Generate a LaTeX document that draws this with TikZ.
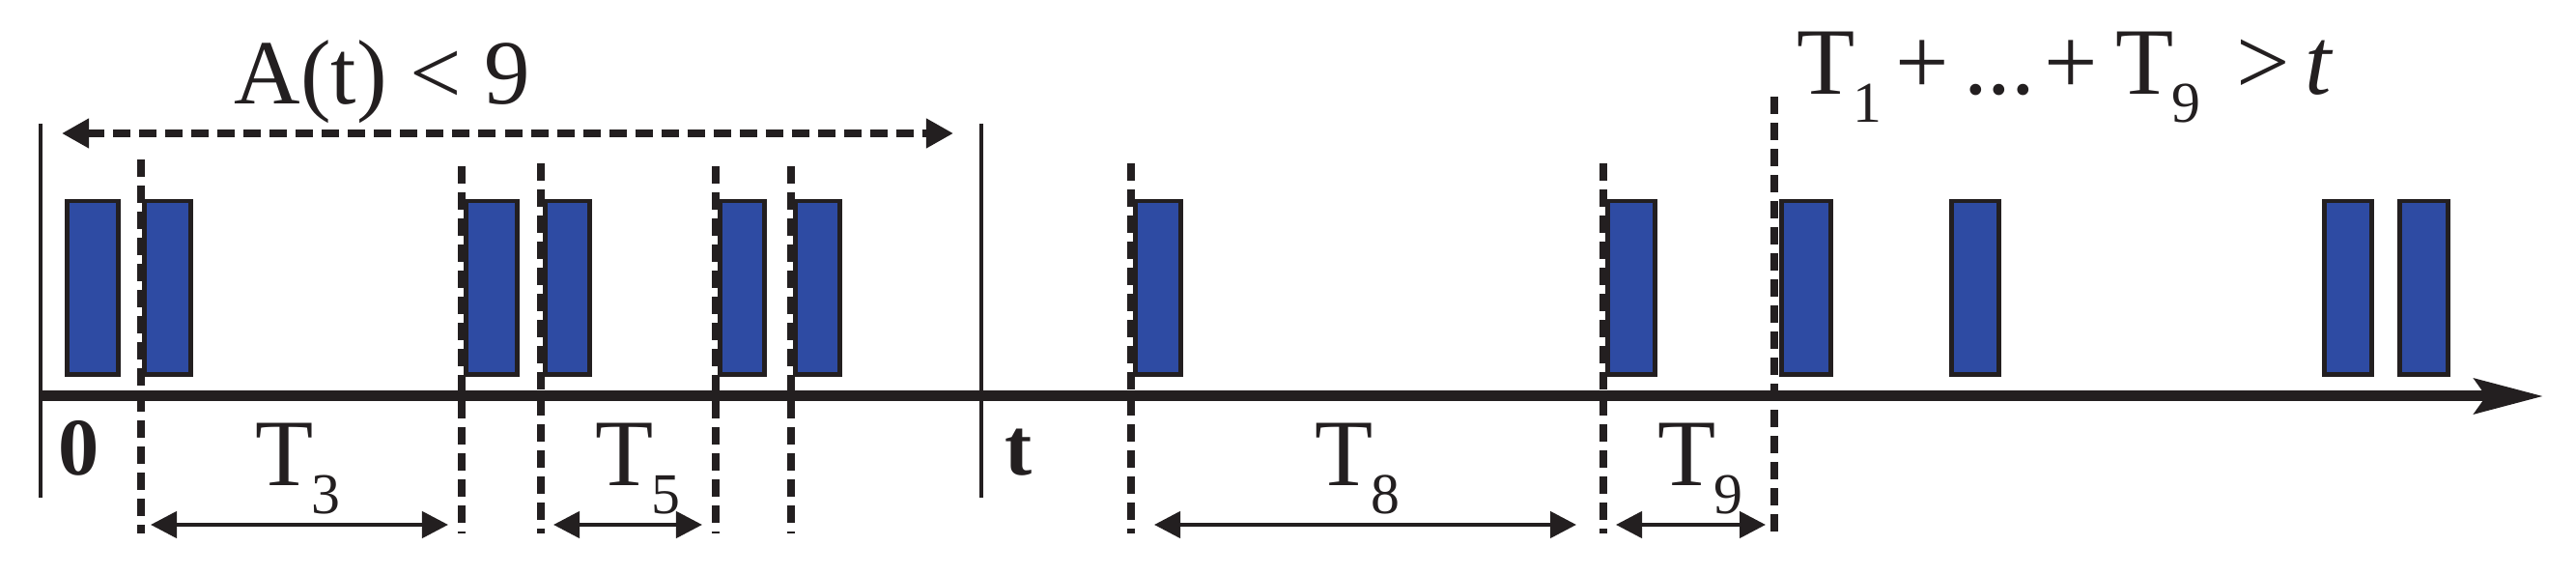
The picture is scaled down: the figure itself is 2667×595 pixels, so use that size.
\documentclass[tikz,border=0pt]{standalone}
\usepackage{fontspec}
\setmainfont{Liberation Serif}
\usetikzlibrary{arrows.meta}
\definecolor{pulseblue}{RGB}{46,75,163}
\definecolor{ink}{RGB}{35,31,32}
\newcommand{\lowsub}[1]{\kern-0.8pt\raisebox{-8pt}{\fontsize{17pt}{17pt}\selectfont #1}}
\tikzset{
    pulse/.style={draw=ink, fill=pulseblue, line width=0.045cm, inner sep=0pt, minimum height=1.79cm, anchor=north west},
    renew/.style={draw=ink, line width=0.08cm, dash pattern=on 0.18cm off 0.09cm},
    limit/.style={draw=ink, line width=0.04cm},
    axis/.style={draw=ink, line width=0.11cm, -{Stealth[length=0.71cm, width=0.36cm, inset=0.12cm]}},
    count/.style={draw=ink, line width=0.075cm, dash pattern=on 0.18cm off 0.09cm,
        {Triangle[length=0.28cm, width=0.29cm]}-{Triangle[length=0.28cm, width=0.29cm]}},
    gap/.style={draw=ink, line width=0.045cm,
        {Triangle[length=0.27cm, width=0.27cm]}-{Triangle[length=0.27cm, width=0.27cm]}},
    lbl/.style={inner sep=0pt, anchor=base west, text=ink, font=\fontsize{28pt}{28pt}\selectfont},
    num/.style={inner sep=0pt, anchor=base, text=ink, font=\fontsize{24pt}{24pt}\selectfont\bfseries}
}
\begin{document}
\begin{tikzpicture}[x=0.01cm, y=-0.01cm]
    \useasboundingbox (0,0) rectangle (2667,595);
    %   Arrivals as blue pulses
    \foreach \n/\x/\w in {1/65/57, 2/145/52, 3/478/57, 4/560/50, 5/741/50, 6/819/50,
                          7/1171/51, 8/1660/53, 9/1840/55, 10/2016/53, 11/2402/53, 12/2480/54}
        \node[pulse, minimum width={(\w-4)*0.01cm}] (p\n) at (\x+2,206) {};
    %   Time axis
    \coordinate (o) at (42,410);
    \coordinate (tip) at (2633,410);
    \draw[axis] (o) -- (tip);
    %   Bounds 0 and t
    \draw[limit] (42,128) coordinate (z top) -- (42,515) coordinate (z bot);
    \draw[limit] (1016,128) coordinate (t top) -- (1016,515) coordinate (t bot);
    \node[num] (zero) at (82,492) {0};
    \node[num] (tlab) at (1055,492) {t};
    %   Renewal epochs
    \foreach \n/\x/\t in {1/146/165, 2/478/172, 3/560/169, 4/741/172,
                          5/819/172, 6/1171/169, 7/1660/169, 8/1837/100}
        \draw[renew] (\x,\t) coordinate (e\n top) -- (\x,552) coordinate (e\n bot);
    %   Counting interval
    \coordinate (cl) at (64,138);
    \coordinate (cr) at (987,138);
    \draw[count] (cl) -- (cr);
    \node[lbl, anchor=base, font=\fontsize{27pt}{27pt}\selectfont] (cnt) at (396,108) {A(t) < 9};
    %   Interarrival times
    \foreach \n/\a/\b in {3/156/464, 5/573/727, 8/1195/1632, 9/1673/1828}
        \draw[gap] (\a,543) coordinate (g\n l) -- (\b,543) coordinate (g\n r);
    \node[lbl] (T3) at (264,503) {T\lowsub{3}};
    \node[lbl] (T5) at (616,503) {T\lowsub{5}};
    \node[lbl] (T8) at (1361,503) {T\lowsub{8}};
    \node[lbl] (T9) at (1716,503) {T\lowsub{9}};
    \node[lbl] (sum) at (1860,98) {T\lowsub{1}\hspace{4pt}+\hspace{4.4pt}...\hspace{2.8pt}+\hspace{5.3pt}T\lowsub{9}\hspace{10.5pt}>\hspace{4.5pt}\textit{t}};
\end{tikzpicture}
\end{document}
